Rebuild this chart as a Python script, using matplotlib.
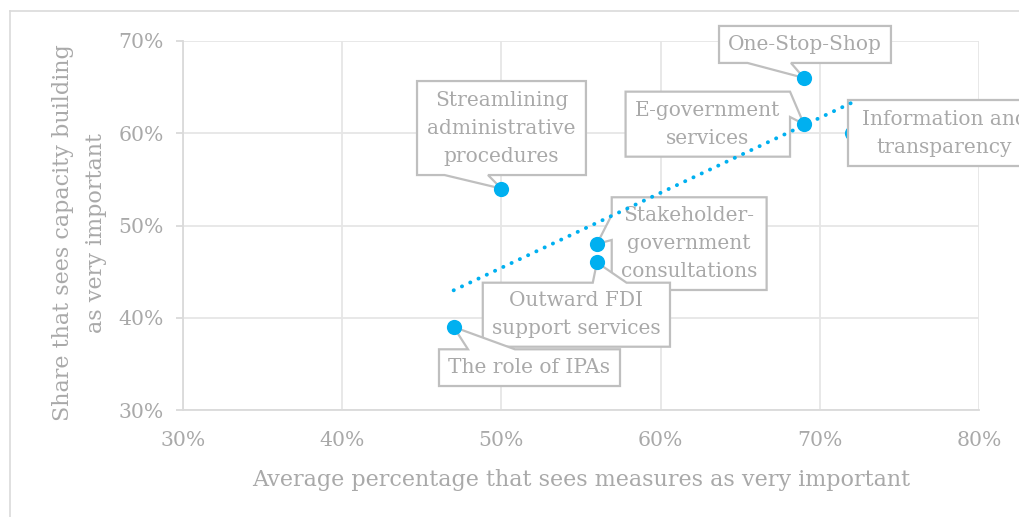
import numpy as np
import matplotlib
matplotlib.use("Agg")
import matplotlib.pyplot as plt
from matplotlib.patches import Polygon
from matplotlib.lines import Line2D
from matplotlib.ticker import FuncFormatter

plt.rcParams['font.family'] = ['DejaVu Serif']

# data (percent)
labels = ["One-Stop-Shop", "E-government\nservices", "Information and\ntransparency",
          "Streamlining\nadministrative\nprocedures", "Stakeholder-\ngovernment\nconsultations",
          "Outward FDI\nsupport services", "The role of IPAs"]
x_vals = [69, 69, 72, 50, 56, 56, 47]
y_vals = [66, 61, 60, 54, 48, 46, 39]

x_ticks = [30, 40, 50, 60, 70, 80]
y_ticks = [30, 40, 50, 60, 70]

# callout boxes (layout only): x0, x1, y0, y1, wedge side, wedge base start, end
boxes = [
    (63.67, 74.47, 67.62, 71.63, 'bottom', 65.46, 68.19),
    (57.80, 68.13, 57.46, 64.51, 'right', 61.76, 64.51),
    (71.77, 83.90, 56.45, 63.56, None, 0, 0),
    (44.70, 55.31, 55.47, 65.66, 'bottom', 46.43, 49.16),
    (56.93, 66.66, 43.01, 53.06, 'left', 48.43, 51.14),
    (48.83, 60.59, 36.86, 43.80, 'top', 55.74, 57.86),
    (46.08, 57.45, 32.60, 36.58, 'top', 47.90, 50.85),
]

BLUE = '#00b0f0'
GRID = '#e6e6e6'
TEXT = '#a9a9a9'
EDGE = '#bfbfbf'


def callout_points(x0, x1, y0, y1, side, b0, b1, tip):
    # rectangle corners counterclockwise with the wedge put into one edge
    pts = [(x0, y0)]
    if side == 'bottom':
        pts += [(b0, y0), tip, (b1, y0)]
    pts.append((x1, y0))
    if side == 'right':
        pts += [(x1, b0), tip, (x1, b1)]
    pts.append((x1, y1))
    if side == 'top':
        pts += [(b1, y1), tip, (b0, y1)]
    pts.append((x0, y1))
    if side == 'left':
        pts += [(x0, b1), tip, (x0, b0)]
    return pts


fig = plt.figure(figsize=(10.19, 5.17), dpi=100)
ax = fig.add_axes([183 / 1019, 1 - 410 / 517, (979 - 183) / 1019, (410 - 41) / 517])

ax.set_xlim(30, 80)
ax.set_ylim(30, 70)
ax.set_xticks(x_ticks)
ax.set_yticks(y_ticks)
pct = FuncFormatter(lambda v, p: f"{v:.0f}%")
ax.xaxis.set_major_formatter(pct)
ax.yaxis.set_major_formatter(pct)
ax.grid(True, color=GRID, lw=1.3, zorder=0)
ax.set_axisbelow(True)
for s in ['top', 'right']:
    ax.spines[s].set_visible(False)
for s in ['left', 'bottom']:
    ax.spines[s].set_color('#dadada')
    ax.spines[s].set_linewidth(1.3)
ax.tick_params(axis='x', length=0, pad=15, labelsize=14.7, labelcolor=TEXT)
ax.tick_params(axis='y', length=5, width=1.3, color='#dadada', pad=9,
               labelsize=14.7, labelcolor=TEXT)

ax.set_xlabel("Average percentage that sees measures as very important",
              fontsize=16, color=TEXT, labelpad=14)
ax.set_ylabel("Share that sees capacity building\nas very important",
              fontsize=16, color=TEXT, linespacing=1.6)
ax.yaxis.set_label_coords(-0.096, 0.48)

# callouts
for lab, xv, yv, b in zip(labels, x_vals, y_vals, boxes):
    x0, x1, y0, y1, side, b0, b1 = b
    pts = callout_points(x0, x1, y0, y1, side, b0, b1, (xv, yv))
    z = 3 if side else 5
    ax.add_patch(Polygon(pts, closed=True, fc='white', ec=EDGE, lw=1.6,
                         zorder=z, clip_on=False))
    ax.text((x0 + x1) / 2, (y0 + y1) / 2, lab, ha='center', va='center',
            fontsize=14.5, color=TEXT, linespacing=1.6, zorder=z + 0.1,
            clip_on=False)

ax.scatter(x_vals, y_vals, s=120, color=BLUE, zorder=4, linewidths=0)

# linear trendline
k, c = np.polyfit(x_vals, y_vals, 1)
tx = np.array([min(x_vals), max(x_vals)])
ax.plot(tx, k * tx + c, color=BLUE, lw=2.8, linestyle=(0, (0.05, 2.3)),
        dash_capstyle='round', zorder=6, clip_on=False)

# outer chart frame
fig.add_artist(Line2D([10 / 1019, 1], [1 - 11 / 517] * 2, transform=fig.transFigure,
                      color='#dadada', lw=1.2))
fig.add_artist(Line2D([10 / 1019] * 2, [0, 1 - 11 / 517], transform=fig.transFigure,
                      color='#dadada', lw=1.2))

fig.savefig("out.png", dpi=100)
